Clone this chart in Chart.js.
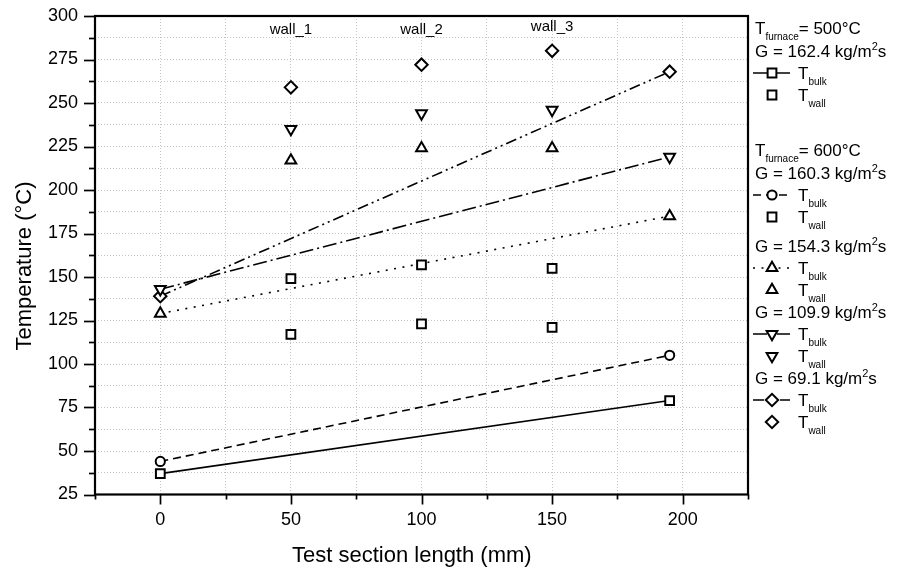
<!DOCTYPE html>
<html><head><meta charset="utf-8">
<script src="https://cdn.jsdelivr.net/npm/chart.js@4/dist/chart.umd.min.js"></script>
<style>html,body{margin:0;padding:0;background:#fff;}</style>
</head><body>
<canvas id="c" width="899" height="573" style="width:899px;height:573px;display:block"></canvas>
<script>
// ---- data ----
const xBulk = [0, 195];
const xWall = [50, 100, 150];
const wallLabels = ['wall_1', 'wall_2', 'wall_3'];
const wallLabelY = [292, 292, 294];

const bulk500 = [37, 79];
const wall500 = [117, 123, 121];
const bulk600 = [44, 105];
const wall600 = [149, 157, 155];
const bulk154 = [129, 185];
const wall154 = [217, 224, 224];
const bulk110 = [143, 219];
const wall110 = [235, 244, 246];
const bulk69 = [139, 268];
const wall69 = [259, 272, 280];

const yTicksMajor = [25, 50, 75, 100, 125, 150, 175, 200, 225, 250, 275, 300];
const xTicksMajor = [0, 50, 100, 150, 200];
const xTitle = 'Test section length (mm)';
const yTitle = 'Temperature (°C)';

const FONT = "'Liberation Sans', Arial, sans-serif";

// ---- styles ----
const styles = {
  s500: {dash: [], point: 'rect', r: 6.2, rot: 0},
  s600: {dash: [8, 5], point: 'circle', r: 4.6, rot: 0},
  s154: {dash: [2, 6.5], point: 'triangle', r: 6.2, rot: 0},
  s110: {dash: [14, 4, 2, 4], point: 'triangle', r: 6.2, rot: 180},
  s69:  {dash: [11, 4, 2, 4, 2, 4], point: 'rectRot', r: 6.2, rot: 0}
};

function pts(xs, ys) { return xs.map((x, i) => ({x: x, y: ys[i]})); }

function bulkDs(label, xs, ys, st) {
  return {label, data: pts(xs, ys), showLine: true, borderColor: '#000', borderWidth: 1.6,
    borderDash: st.dash, pointStyle: st.point, pointRadius: st.r, pointRotation: st.rot,
    pointBorderWidth: 2, pointBackgroundColor: '#fff', pointBorderColor: '#000'};
}
function wallDs(label, xs, ys, st) {
  return {label, data: pts(xs, ys), showLine: false, borderColor: '#000',
    pointStyle: st.point, pointRadius: st.r, pointRotation: st.rot,
    pointBorderWidth: 2, pointBackgroundColor: '#fff', pointBorderColor: '#000'};
}

const datasets = [
  bulkDs('500 bulk', xBulk, bulk500, styles.s500),
  wallDs('500 wall', xWall, wall500, styles.s500),
  bulkDs('600 bulk', xBulk, bulk600, styles.s600),
  wallDs('600 wall', xWall, wall600, styles.s500),
  bulkDs('154.3 bulk', xBulk, bulk154, styles.s154),
  wallDs('154.3 wall', xWall, wall154, styles.s154),
  bulkDs('109.9 bulk', xBulk, bulk110, styles.s110),
  wallDs('109.9 wall', xWall, wall110, styles.s110),
  bulkDs('69.1 bulk', xBulk, bulk69, styles.s69),
  wallDs('69.1 wall', xWall, wall69, styles.s69)
];

// ---- helpers ----
function drawMarker(ctx, style, x, y, r, rotDeg) {
  ctx.save();
  ctx.beginPath();
  let rad = (rotDeg || 0) * Math.PI / 180;
  if (style === 'rect') {
    const s = Math.SQRT1_2 * r;
    ctx.rect(x - s, y - s, 2 * s, 2 * s);
  } else if (style === 'circle') {
    ctx.arc(x, y, r, 0, Math.PI * 2);
  } else if (style === 'triangle') {
    for (let k = 0; k < 3; k++) {
      const a = rad + k * 2 * Math.PI / 3;
      const px = x + Math.sin(a) * r, py = y - Math.cos(a) * r;
      if (k === 0) ctx.moveTo(px, py); else ctx.lineTo(px, py);
    }
    ctx.closePath();
  } else if (style === 'rectRot') {
    ctx.moveTo(x - r, y); ctx.lineTo(x, y - r); ctx.lineTo(x + r, y); ctx.lineTo(x, y + r);
    ctx.closePath();
  }
  ctx.fillStyle = '#fff';
  ctx.fill();
  ctx.lineWidth = 2;
  ctx.strokeStyle = '#000';
  ctx.setLineDash([]);
  ctx.stroke();
  ctx.restore();
}

function drawRich(ctx, parts, x, y) {
  let cx = x;
  parts.forEach(p => {
    let size = 17, dy = 0;
    if (p.sub) { size = 10; dy = 6; }
    if (p.sup) { size = 11; dy = -7; }
    ctx.font = size + 'px ' + FONT;
    ctx.fillText(p.t, cx, y + dy);
    cx += ctx.measureText(p.t).width;
  });
}

const legendRows = [
  {y: 34, text: [{t: 'T'}, {t: 'furnace', sub: true}, {t: '= 500°C'}]},
  {y: 57, text: [{t: 'G = 162.4 kg/m'}, {t: '2', sup: true}, {t: 's'}]},
  {y: 79, sample: 's500', line: true, text: 'bulk'},
  {y: 101, sample: 's500', line: false, text: 'wall'},
  {y: 156, text: [{t: 'T'}, {t: 'furnace', sub: true}, {t: '= 600°C'}]},
  {y: 179, text: [{t: 'G = 160.3 kg/m'}, {t: '2', sup: true}, {t: 's'}]},
  {y: 201, sample: 's600', line: true, text: 'bulk'},
  {y: 223, sample: 's500', line: false, text: 'wall'},
  {y: 252, text: [{t: 'G = 154.3 kg/m'}, {t: '2', sup: true}, {t: 's'}]},
  {y: 274, sample: 's154', line: true, text: 'bulk'},
  {y: 296, sample: 's154', line: false, text: 'wall'},
  {y: 318, text: [{t: 'G = 109.9 kg/m'}, {t: '2', sup: true}, {t: 's'}]},
  {y: 340, sample: 's110', line: true, text: 'bulk'},
  {y: 362, sample: 's110', line: false, text: 'wall'},
  {y: 384, text: [{t: 'G = 69.1 kg/m'}, {t: '2', sup: true}, {t: 's'}]},
  {y: 406, sample: 's69', line: true, text: 'bulk'},
  {y: 428, sample: 's69', line: false, text: 'wall'}
];

const customPlugin = {
  id: 'custom',
  afterDatasetsDraw(chart) {
    const ctx = chart.ctx;
    const xs = chart.scales.x, ys = chart.scales.y;
    ctx.save();
    ctx.fillStyle = '#000';
    ctx.font = '15px ' + FONT;
    ctx.textAlign = 'center';
    ctx.textBaseline = 'middle';
    wallLabels.forEach((lab, i) => {
      ctx.fillText(lab, xs.getPixelForValue(xWall[i]), ys.getPixelForValue(wallLabelY[i]));
    });
    ctx.restore();
  },
  afterDraw(chart) {
    const ctx = chart.ctx;
    const a = chart.chartArea;
    const xs = chart.scales.x, ys = chart.scales.y;
    ctx.save();
    ctx.strokeStyle = '#000';
    ctx.lineWidth = 1.7;
    ctx.setLineDash([]);
    ys.ticks.forEach(t => {
      const py = Math.round(ys.getPixelForValue(t.value)) + 0.5;
      const len = (t.value % 25 === 0) ? 11 : 6;
      ctx.beginPath(); ctx.moveTo(a.left - len, py); ctx.lineTo(a.left, py); ctx.stroke();
    });
    xs.ticks.forEach(t => {
      const px = Math.round(xs.getPixelForValue(t.value)) + 0.5;
      const len = (t.value % 50 === 0) ? 10 : 5;
      ctx.beginPath(); ctx.moveTo(px, a.bottom); ctx.lineTo(px, a.bottom + len); ctx.stroke();
    });
    ctx.lineWidth = 2.2;
    ctx.strokeRect(a.left, a.top, a.right - a.left, a.bottom - a.top);
    ctx.restore();

    // axis titles
    ctx.save();
    ctx.fillStyle = '#000';
    ctx.font = '22px ' + FONT;
    ctx.textAlign = 'left';
    ctx.textBaseline = 'alphabetic';
    ctx.fillText(xTitle, 292, 562);
    ctx.translate(31, 266);
    ctx.rotate(-Math.PI / 2);
    ctx.textAlign = 'center';
    ctx.fillText(yTitle, 0, 0);
    ctx.restore();

    // legend
    ctx.save();
    ctx.fillStyle = '#000';
    ctx.textAlign = 'left';
    ctx.textBaseline = 'alphabetic';
    const lx = 753;
    legendRows.forEach(row => {
      if (!row.sample) {
        drawRich(ctx, row.text, lx + 2, row.y);
      } else {
        const st = styles[row.sample];
        const cy = row.y - 6;
        if (row.line) {
          ctx.save();
          ctx.strokeStyle = '#000';
          ctx.lineWidth = 1.6;
          ctx.setLineDash(st.dash);
          ctx.beginPath(); ctx.moveTo(lx, cy); ctx.lineTo(lx + 37, cy); ctx.stroke();
          ctx.restore();
        }
        drawMarker(ctx, st.point, lx + 19, cy, st.r, st.rot);
        drawRich(ctx, [{t: 'T'}, {t: row.text, sub: true}], lx + 45, row.y);
      }
    });
    ctx.restore();
  }
};

new Chart(document.getElementById('c'), {
  type: 'scatter',
  data: {datasets},
  options: {
    responsive: false,
    animation: false,
    devicePixelRatio: 1,
    layout: {padding: {left: 0, right: 151, top: 16, bottom: 0}},
    plugins: {legend: {display: false}, tooltip: {enabled: false}},
    scales: {
      x: {
        type: 'linear', min: -25, max: 225,
        afterBuildTicks(s) { s.ticks = []; for (let v = -25; v <= 225; v += 25) s.ticks.push({value: v}); },
        afterFit(s) { s.height = 78.5; s.paddingLeft = 0; s.paddingRight = 0; },
        ticks: {autoSkip: false, maxRotation: 0, color: '#000', padding: 15,
          font: {family: FONT, size: 18},
          callback: v => xTicksMajor.includes(v) ? String(v) : ''},
        grid: {drawTicks: false, color: '#c4c4c4', lineWidth: 1},
        border: {display: false, dash: [1, 2]},
        title: {display: false}
      },
      y: {
        type: 'linear', min: 25, max: 300,
        afterBuildTicks(s) { s.ticks = []; for (let v = 25; v <= 300; v += 12.5) s.ticks.push({value: v}); },
        afterFit(s) { s.width = 95; s.paddingTop = 0; s.paddingBottom = 0; },
        ticks: {autoSkip: false, color: '#000', padding: 17,
          font: {family: FONT, size: 18},
          callback: v => yTicksMajor.includes(v) ? String(v) : ''},
        grid: {drawTicks: false, color: '#c4c4c4', lineWidth: 1},
        border: {display: false, dash: [1, 2]},
        title: {display: false}
      }
    }
  },
  plugins: [customPlugin]
});
</script>
</body></html>
